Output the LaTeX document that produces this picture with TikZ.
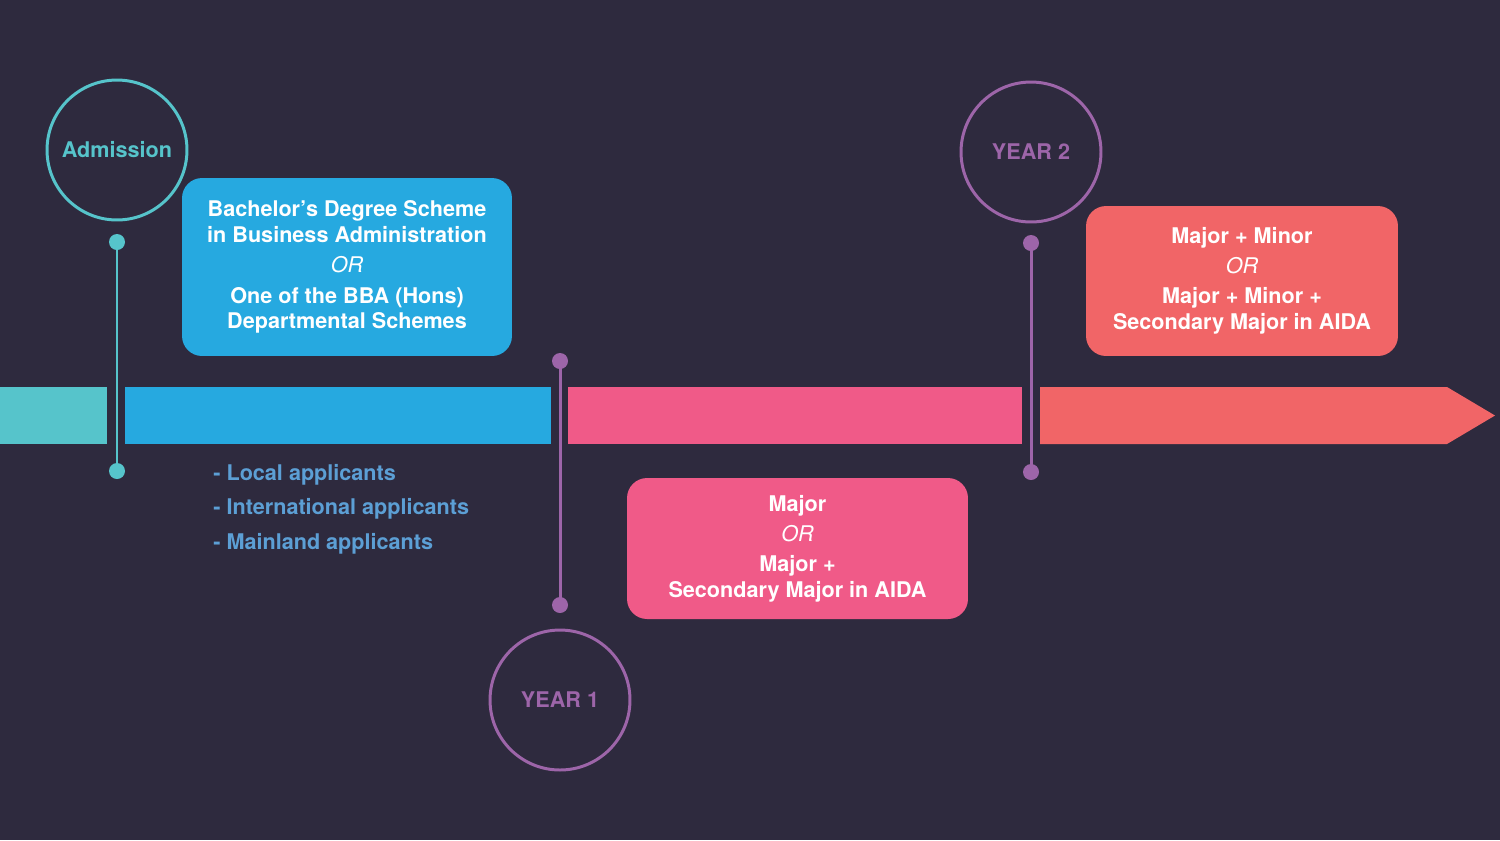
\documentclass[tikz,border=0pt]{standalone}
\usepackage{fontspec}
\setmainfont{TeX Gyre Heros}
\usetikzlibrary{shapes,shapes.geometric,calc}
\definecolor{c_bg}{HTML}{2E2A3E}
\definecolor{c_teal}{HTML}{56C4CB}
\definecolor{c_blue}{HTML}{26A9E0}
\definecolor{c_pink}{HTML}{F05A88}
\definecolor{c_coral}{HTML}{F16567}
\definecolor{c_purple}{HTML}{9D65A9}
\definecolor{c_list}{HTML}{5C9FD5}
\newcommand\tlor{{\normalfont\itshape OR}}
\tikzset{
  tl_font/.style = {font=\fontsize{12.3}{14.6}\selectfont\bfseries},
  tl_circ/.style = {tl_font, circle, draw, line width=1.7pt, minimum size=2.8cm, inner sep=0pt},
  tl_dot/.style = {circle, inner sep=0pt, minimum size=0.32cm},
  tl_stem/.style = {line width=1.7pt},
  tl_box/.style = {tl_font, align=center, text=white, rounded corners=0.4cm, inner sep=0pt},
  tl_list/.style = {tl_font, text=c_list, anchor=base west, inner sep=0pt}
}

\begin{document}
\begin{tikzpicture}[x=0.02cm, y=-0.02cm]
	\useasboundingbox[fill=c_bg] (0,0) rectangle (1500,840);
	% timeline bar
	\fill[c_teal] (0,387) rectangle (107,444);
	\fill[c_blue] (125,387) rectangle (551,444);
	\fill[c_pink] (568,387) rectangle (1022,444);
	\fill[c_coral] (1040,387) -- (1447,387) -- (1495,415.5) -- (1447,444) -- (1040,444) -- cycle;
	% admission
	\node [tl_circ, c_teal] (adm) at (117,150) {Admission};
	\node [tl_dot, fill=c_teal] (adm_top) at (117,242) {};
	\node [tl_dot, fill=c_teal] (adm_bot) at (117,471) {};
	\draw [tl_stem, c_teal] (adm_top.center) -- (adm_bot.center);
	\node [tl_box, fill=c_blue, minimum width=6.6cm, minimum height=3.56cm] (scheme) at (347,267)
		{Bachelor’s Degree Scheme\\in Business Administration\\[2.5pt]
		 \tlor\\[3pt]One of the BBA (Hons)\\Departmental Schemes};
	\node [tl_list] (local) at (213,480) {- Local applicants};
	\node [tl_list] (intl) at (213,514) {- International applicants};
	\node [tl_list] (mainland) at (213,549) {- Mainland applicants};
	% year 1
	\node [tl_circ, c_purple] (y1) at (560,700) {YEAR 1};
	\node [tl_dot, fill=c_purple] (y1_top) at (560,361) {};
	\node [tl_dot, fill=c_purple] (y1_bot) at (560,605) {};
	\draw [tl_stem, c_purple] (y1_top.center) -- (y1_bot.center);
	\node [tl_box, fill=c_pink, minimum width=6.82cm, minimum height=2.82cm] (major) at (797.5,548.5)
		{Major\\[2.5pt]\tlor\\[2.5pt]Major +\\Secondary Major in AIDA};
	% year 2
	\node [tl_circ, c_purple] (y2) at (1031,152) {YEAR 2};
	\node [tl_dot, fill=c_purple] (y2_top) at (1031,243) {};
	\node [tl_dot, fill=c_purple] (y2_bot) at (1031,472) {};
	\draw [tl_stem, c_purple] (y2_top.center) -- (y2_bot.center);
	\node [tl_box, fill=c_coral, minimum width=6.24cm, minimum height=3.0cm] (minor) at (1242,281)
		{Major + Minor\\[2.5pt]\tlor\\[2.5pt]Major + Minor +\\Secondary Major in AIDA};
\end{tikzpicture}
\end{document}
